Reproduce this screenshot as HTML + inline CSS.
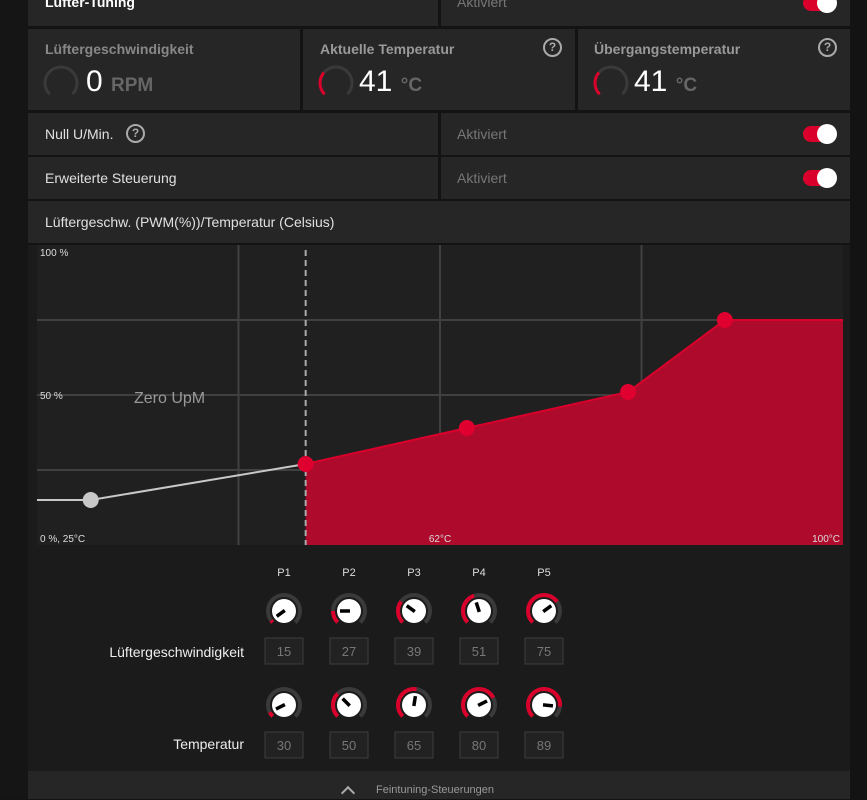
<!DOCTYPE html>
<html><head><meta charset="utf-8"><style>
body{margin:0;width:867px;height:799px;background:#131313;font-family:"Liberation Sans",sans-serif;overflow:hidden;position:relative}
.c{position:absolute;background:#262626;color:#ddd;font-size:14px}
.lbl{position:absolute;font-size:14px;color:#e0e0e0}
.muted{color:#777}
.tog{position:absolute;width:32px;height:16px;border-radius:8px;background:#d9002b}
.tog:after{content:"";position:absolute;right:-2px;top:-2px;width:20px;height:20px;border-radius:50%;background:#fff}
.q{position:absolute;width:15px;height:15px;border:2px solid #aaa;border-radius:50%;color:#aaa;font-size:12px;font-weight:bold;text-align:center;line-height:15px}
</style></head><body>
<div style="position:absolute;left:0;top:0;width:28px;height:799px;background:#151515"></div>
<div class="c" style="left:28px;top:0;width:410px;height:26px"><div class="lbl" style="left:17px;top:-6px;font-weight:bold;color:#fff">Lüfter-Tuning</div></div>
<div class="c" style="left:441px;top:0;width:409px;height:26px"><div class="lbl muted" style="left:16px;top:-6px">Aktiviert</div><div class="tog" style="left:362px;top:-5px"></div></div>

<div class="c" style="left:28px;top:29px;width:272px;height:81px">
<div class="lbl" style="left:17px;top:12px;font-weight:bold;color:#888">Lüftergeschwindigkeit</div>
<svg style="position:absolute;left:14px;top:35px" width="38" height="38"><circle cx="19" cy="19" r="16" fill="none" stroke="#3a3a3a" stroke-width="3" stroke-dasharray="75 100" transform="rotate(135 19 19)"/></svg>
<div class="lbl" style="left:58px;top:36px;font-size:30px;color:#fff">0 <span style="font-size:19px;color:#666;font-weight:bold">RPM</span></div></div>
<div class="c" style="left:303px;top:29px;width:272px;height:81px">
<div class="lbl" style="left:17px;top:12px;font-weight:bold;color:#999">Aktuelle Temperatur</div><div class="q" style="left:240px;top:9px">?</div>
<svg style="position:absolute;left:14px;top:35px" width="38" height="38"><circle cx="19" cy="19" r="16" fill="none" stroke="#3a3a3a" stroke-width="3" stroke-dasharray="75 100" transform="rotate(135 19 19)"/><circle cx="19" cy="19" r="16" fill="none" stroke="#d9002b" stroke-width="3" stroke-dasharray="24 100" transform="rotate(135 19 19)"/></svg>
<div class="lbl" style="left:56px;top:36px;font-size:30px;color:#fff">41 <span style="font-size:19px;color:#666;font-weight:bold">°C</span></div></div>
<div class="c" style="left:578px;top:29px;width:272px;height:81px">
<div class="lbl" style="left:16px;top:12px;font-weight:bold;color:#999">Übergangstemperatur</div><div class="q" style="left:240px;top:9px">?</div>
<svg style="position:absolute;left:14px;top:35px" width="38" height="38"><circle cx="19" cy="19" r="16" fill="none" stroke="#3a3a3a" stroke-width="3" stroke-dasharray="75 100" transform="rotate(135 19 19)"/><circle cx="19" cy="19" r="16" fill="none" stroke="#d9002b" stroke-width="3" stroke-dasharray="24 100" transform="rotate(135 19 19)"/></svg>
<div class="lbl" style="left:56px;top:36px;font-size:30px;color:#fff">41 <span style="font-size:19px;color:#666;font-weight:bold">°C</span></div></div>

<div class="c" style="left:28px;top:113px;width:410px;height:42px"><div class="lbl" style="left:17px;top:13px">Null U/Min.</div><div class="q" style="left:98px;top:11px">?</div></div>
<div class="c" style="left:441px;top:113px;width:409px;height:42px"><div class="lbl muted" style="left:16px;top:13px">Aktiviert</div><div class="tog" style="left:362px;top:13px"></div></div>
<div class="c" style="left:28px;top:157px;width:410px;height:42px"><div class="lbl" style="left:17px;top:13px">Erweiterte Steuerung</div></div>
<div class="c" style="left:441px;top:157px;width:409px;height:42px"><div class="lbl muted" style="left:16px;top:13px">Aktiviert</div><div class="tog" style="left:362px;top:13px"></div></div>
<div class="c" style="left:28px;top:201px;width:822px;height:42px"><div class="lbl" style="left:17px;top:13px">Lüftergeschw. (PWM(%))/Temperatur (Celsius)</div></div>
<div style="position:absolute;left:28px;top:245px;width:822px;height:527px;background:#1b1b1b"></div>
<svg id="chart" style="position:absolute;left:0;top:0" width="867" height="799"></svg>
<div style="position:absolute;left:28px;top:771px;width:822px;height:28px;background:#262626">
<div style="position:absolute;left:315px;top:17px;width:8px;height:8px;border-left:2px solid #aaa;border-top:2px solid #aaa;transform:rotate(45deg)"></div>
<div class="lbl" style="left:348px;top:13px;font-size:11px;color:#999">Feintuning-Steuerungen</div></div>
<script>
const temps=[30,50,65,80,89];
const speeds=[15,27,39,51,75];
const pointNames=["P1","P2","P3","P4","P5"];
const yTicks=["0 %, 25°C","50 %","100 %"];
const xTicks=["62°C","100°C"];
const zeroUntil=50;
const NS="http://www.w3.org/2000/svg";
const svg=document.getElementById('chart');
const L=37,R=843,T=245,B=545,tMin=25,tMax=100;
const xs=t=>L+(t-tMin)/(tMax-tMin)*(R-L);
const ys=v=>B-v/100*(B-T);
const fanKnob=v=>Math.max(0,(v-12)/90);
const tempKnob=t=>(t-tMin)/(tMax-tMin);
function mk(tag,a,p){const e=document.createElementNS(NS,tag);for(const k in a)e.setAttribute(k,a[k]);(p||svg).appendChild(e);return e;}
let e=mk('rect',{x:L,y:T,width:R-L,height:B-T,fill:'#202020'});

for(let i=1;i<4;i++){e=mk('line',{x1:L,x2:R,y1:ys(i*25),y2:ys(i*25),stroke:'#404040','stroke-width':2});

const tx=tMin+(tMax-tMin)*i/4;
e=mk('line',{x1:xs(tx),x2:xs(tx),y1:T,y2:B,stroke:'#404040','stroke-width':2});
}
const zi=temps.indexOf(zeroUntil);
let d='M'+xs(temps[zi])+','+B;
for(let i=zi;i<temps.length;i++)d+=' L'+xs(temps[i])+','+ys(speeds[i]);
d+=' L'+R+','+ys(speeds[speeds.length-1])+' L'+R+','+B+' Z';
e=mk('path',{d:d,fill:'#ad0a2c'});
let pd='M'+xs(temps[zi])+','+ys(speeds[zi]);
for(let i=zi+1;i<temps.length;i++)pd+=' L'+xs(temps[i])+','+ys(speeds[i]);
pd+=' L'+R+','+ys(speeds[speeds.length-1]);
e=mk('path',{d:pd,fill:'none',stroke:'#d9002b','stroke-width':2});
let gd='M'+L+','+ys(speeds[0]);
for(let i=0;i<=zi;i++)gd+=' L'+xs(temps[i])+','+ys(speeds[i]);
e=mk('path',{d:gd,fill:'none',stroke:'#c8c8c8','stroke-width':2});
e=mk('line',{x1:xs(zeroUntil),x2:xs(zeroUntil),y1:T+5,y2:B,stroke:'#aaa','stroke-width':2,'stroke-dasharray':'6 4'});

temps.forEach((t,i)=>{e=mk('circle',{cx:xs(t),cy:ys(speeds[i]),r:8,fill:t<zeroUntil?'#c8c8c8':'#e0002f'});
});
e=mk('text',{x:134,y:403,fill:'#999','font-size':16});e.textContent='Zero UpM';

const tl=[[40,ys(0)-3,yTicks[0],'start'],[40,ys(50)+4,yTicks[1],'start'],[40,ys(100)+11,yTicks[2],'start'],[440,B-3,xTicks[0],'middle'],[840,B-3,xTicks[1],'end']];
tl.forEach(a=>{e=mk('text',{x:a[0],y:a[1],fill:'#ddd','font-size':10,'text-anchor':a[3]});e.textContent=a[2];
});
e=mk('text',{x:244,y:657,fill:'#eee','font-size':14,'text-anchor':'end'});e.textContent='Lüftergeschwindigkeit';

e=mk('text',{x:244,y:749,fill:'#eee','font-size':14,'text-anchor':'end'});e.textContent='Temperatur';

function knob(cx,cy,f,name){const g=mk('g',{});
const r=16,arcLen=2*Math.PI*r*0.75;
mk('circle',{cx:cx,cy:cy,r:r,fill:'none',stroke:'#3a3a3a','stroke-width':4,'stroke-dasharray':arcLen+' 200',transform:'rotate(135 '+cx+' '+cy+')'},g);
if(f>0.02)mk('circle',{cx:cx,cy:cy,r:r,fill:'none',stroke:'#d9002b','stroke-width':4,'stroke-dasharray':(arcLen*f)+' 200',transform:'rotate(135 '+cx+' '+cy+')'},g);
mk('circle',{cx:cx,cy:cy,r:12,fill:'#fff'},g);
const a=(225-270*f)*Math.PI/180;
mk('line',{x1:cx-Math.cos(a)*1,y1:cy+Math.sin(a)*1,x2:cx+Math.cos(a)*9,y2:cy-Math.sin(a)*9,stroke:'#000','stroke-width':3.5},g);}
pointNames.forEach((p,i)=>{const cx=284+i*65;
e=mk('text',{x:cx,y:576,fill:'#ddd','font-size':11,'text-anchor':'middle'});e.textContent=p;

knob(cx,611,fanKnob(speeds[i]),'fan-speed-knob-'+p.toLowerCase());
knob(cx,705,tempKnob(temps[i]),'temperature-knob-'+p.toLowerCase());
e=mk('rect',{x:cx-19,y:638,width:38,height:26,fill:'#222',stroke:'#3d3d3d'});

e=mk('text',{x:cx,y:656,fill:'#777','font-size':13,'text-anchor':'middle'});e.textContent=speeds[i];

e=mk('rect',{x:cx-19,y:732,width:38,height:26,fill:'#222',stroke:'#3d3d3d'});

e=mk('text',{x:cx,y:750,fill:'#777','font-size':13,'text-anchor':'middle'});e.textContent=temps[i];
});
</script>
</body></html>
